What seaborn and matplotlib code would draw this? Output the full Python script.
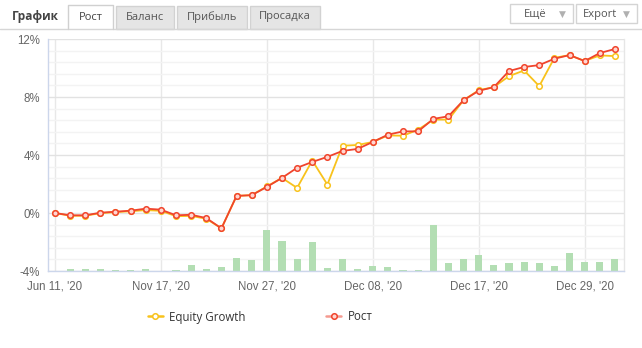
import numpy as np
import pandas as pd
import matplotlib
matplotlib.use("Agg")
import matplotlib.pyplot as plt
from matplotlib.patches import Rectangle
from matplotlib.lines import Line2D
from matplotlib.ticker import MultipleLocator, FuncFormatter
import seaborn as sns

# ---------------- data ----------------
tick_labels = ["Jun 11, '20", "Nov 17, '20", "Nov 27, '20", "Dec 08, '20", "Dec 17, '20", "Dec 29, '20"]
tick_index = [0, 7, 14, 21, 28, 35]

growth = [0.00, -0.16, -0.16, 0.02, 0.09, 0.16, 0.30, 0.23, -0.16, -0.12,
          -0.35, -1.06, 1.18, 1.23, 1.80, 2.42, 3.12, 3.52, 3.87, 4.28,
          4.42, 4.90, 5.40, 5.63, 5.63, 6.49, 6.67, 7.78, 8.43, 8.68,
          9.79, 10.07, 10.20, 10.64, 10.89, 10.48, 11.03, 11.31]
equity = [0.00, -0.19, -0.19, -0.01, 0.06, 0.12, 0.20, 0.15, -0.22, -0.20,
          -0.40, -1.06, 1.18, 1.23, 1.83, 2.42, 1.73, 3.62, 1.96, 4.64,
          4.69, 4.90, 5.35, 5.33, 5.75, 6.44, 6.44, 7.78, 8.47, 8.68,
          9.44, 9.83, 8.75, 10.70, 10.89, 10.48, 10.87, 10.82]
bars = [0.00, 0.14, 0.14, 0.14, 0.05, 0.05, 0.14, 0.00, 0.07, 0.41,
        0.14, 0.28, 0.90, 0.74, 2.83, 2.07, 0.81, 2.00, 0.21, 0.81,
        0.14, 0.34, 0.28, 0.07, 0.07, 3.17, 0.53, 0.81, 1.08, 0.39,
        0.53, 0.62, 0.53, 0.32, 1.24, 0.62, 0.62, 0.81]
series_names = ["Equity Growth", "Рост"]

idx = list(range(len(growth)))
df = pd.DataFrame({"i": idx, "growth": growth, "equity": equity, "bars": bars})

# ---------------- style ----------------
sns.set_theme(style="white")
plt.rcParams["font.family"] = ["Liberation Sans", "DejaVu Sans"]

W, H = 642, 348
fig = plt.figure(figsize=(W / 100, H / 100), dpi=100)
fig.patch.set_facecolor("white")

def fx(x):
    return x / W

def fy(y):
    return 1 - y / H

ax = fig.add_axes([fx(48), fy(271), (624 - 48) / W, (271 - 39) / H])
ax.set_facecolor("white")

RED = "#f0442c"
YEL = "#f8c21c"
GREEN = "#b3deb3"

# bars from the -4% baseline
sns.barplot(data=df, x="i", y="bars", ax=ax, native_scale=True, color=GREEN,
            saturation=1, width=0.47, errorbar=None, bottom=-4, linewidth=0, zorder=1)

sns.lineplot(data=df, x="i", y="equity", ax=ax, color=YEL, lw=1.3, marker="o",
             markersize=4.0, markerfacecolor="white", markeredgecolor=YEL,
             markeredgewidth=1.1, label=series_names[0], zorder=3)
sns.lineplot(data=df, x="i", y="growth", ax=ax, color=RED, lw=1.3, marker="o",
             markersize=4.0, markerfacecolor="#ffd6d0", markeredgecolor=RED,
             markeredgewidth=1.1, label=series_names[1], zorder=4)

ax.set_xlim(-0.46, 37.6)
ax.set_ylim(-4, 12)
ax.set_xlabel("")
ax.set_ylabel("")

ax.set_xticks(tick_index)
ax.set_xticklabels(tick_labels)
ax.yaxis.set_major_locator(MultipleLocator(4))
ax.yaxis.set_minor_locator(MultipleLocator(0.8))
ax.yaxis.set_major_formatter(FuncFormatter(lambda v, p: f"{int(round(v))}%"))

ax.set_axisbelow(True)
ax.grid(True, axis="x", color="#e8e8e8", lw=1.0)
ax.grid(True, axis="y", which="major", color="#e2e2e2", lw=1.0)
ax.grid(True, axis="y", which="minor", color="#f3f3f3", lw=1.0)

ax.tick_params(axis="x", length=0, pad=7, labelsize=8.3, labelcolor="#666666")
ax.tick_params(axis="y", which="major", length=4, width=1, color="#ccd6eb",
               pad=1.5, labelsize=8.3, labelcolor="#666666")
ax.tick_params(axis="y", which="minor", length=0)

ax.spines["top"].set_visible(False)
ax.spines["right"].set_color("#e6e6e6")
ax.spines["left"].set_color("#ccd6eb")
ax.spines["bottom"].set_color("#ccd6eb")
for s in ["left", "bottom", "right"]:
    ax.spines[s].set_linewidth(1.0)

# legend
handles = [
    Line2D([], [], color=YEL, lw=1.8, marker="o", markersize=4.0,
           markerfacecolor="white", markeredgecolor=YEL, markeredgewidth=1.1),
    Line2D([], [], color="#f59a90", lw=1.8, marker="o", markersize=4.0,
           markerfacecolor="#ffd6d0", markeredgecolor=RED, markeredgewidth=1.1),
]
leg = ax.legend(handles, series_names, loc="center", ncol=2,
                bbox_to_anchor=(fx(260), fy(317)), bbox_transform=fig.transFigure,
                frameon=False, handlelength=1.3, handletextpad=0.55,
                columnspacing=7.0, prop={"family": ["Open Sans", "DejaVu Sans"], "size": 8.3})
for t in leg.get_texts():
    t.set_color("#333333")

# ---------------- header (tabs + buttons) ----------------
fig.add_artist(Line2D([fx(0), fx(642)], [fy(28.5), fy(28.5)], color="#d6d6d6", lw=1.0))

fig.text(fx(12), fy(16.5), "График", fontsize=8.6, fontweight="bold", color="#444444",
         ha="left", va="center", family=["Open Sans", "DejaVu Sans"])

tabs = [("Рост", 68, 113, True), ("Баланс", 116, 174, False),
        ("Прибыль", 177, 247, False), ("Просадка", 250, 320, False)]
for label, x0, x1, active in tabs:
    if active:
        fig.add_artist(Rectangle((fx(x0), fy(29.5)), fx(x1) - fx(x0), fy(5) - fy(29.5),
                                 facecolor="white", edgecolor="none", transform=fig.transFigure))
        fig.add_artist(Line2D([fx(x0), fx(x0), fx(x1), fx(x1)],
                              [fy(28.5), fy(5), fy(5), fy(28.5)], color="#d0d0d0", lw=1.0))
        col = "#444444"
    else:
        fig.add_artist(Rectangle((fx(x0), fy(28.5)), fx(x1) - fx(x0), fy(6) - fy(28.5),
                                 facecolor="#e5e5e5", edgecolor="#d2d2d2", lw=1.0,
                                 transform=fig.transFigure))
        col = "#555555"
    fig.text(fx((x0 + x1) / 2), fy(17), label, fontsize=8.0, color=col,
             ha="center", va="center", family=["Open Sans", "DejaVu Sans"])

buttons = [("Ещё", 510, 573), ("Export", 576, 637)]
for label, x0, x1 in buttons:
    fig.add_artist(Rectangle((fx(x0), fy(23)), fx(x1) - fx(x0), fy(4) - fy(23),
                             facecolor="white", edgecolor="#d4d4d4", lw=1.0,
                             transform=fig.transFigure))
    fig.text(fx(x1 - 11), fy(14), "▼", fontsize=6.5, color="#b0b0b0",
             ha="center", va="center", family=["DejaVu Sans"])
    fig.text(fx(x0 + (x1 - x0 - 16) / 2 + 2), fy(14), label, fontsize=8.0, color="#555555",
             ha="center", va="center", family=["Open Sans", "DejaVu Sans"])

fig.savefig("out.png", dpi=100)
